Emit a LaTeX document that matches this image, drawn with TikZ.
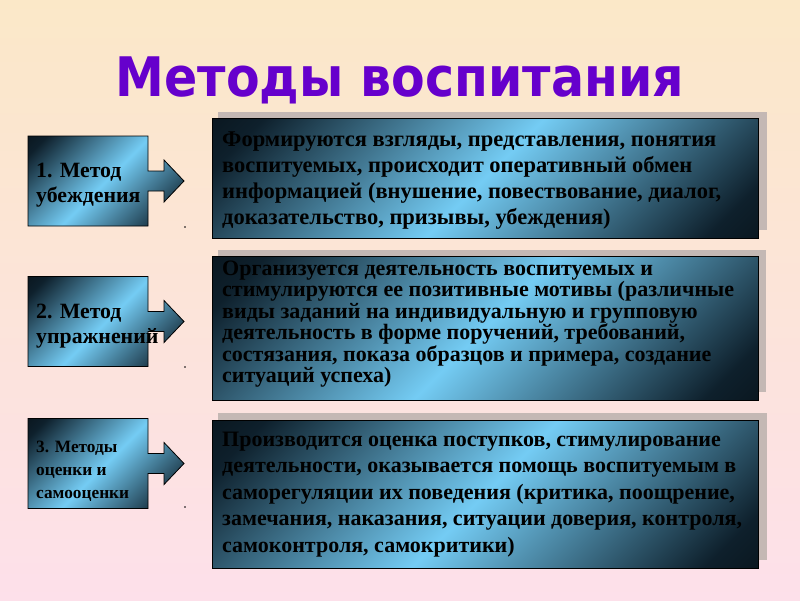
\documentclass[tikz,border=0pt]{standalone}
\usepackage{fontspec}
\setmainfont{Liberation Serif}
\newfontfamily\headfont{DejaVu Sans Condensed}
\definecolor{bgtop}{HTML}{FBE8C8}
\definecolor{bgbot}{HTML}{FDE0EA}
\definecolor{headviolet}{HTML}{6600CC}
\definecolor{boxdark}{HTML}{0E202C}
\definecolor{boxlight}{HTML}{74CCF4}
\definecolor{shadowgrey}{HTML}{C4B8B4}
\pgfdeclarehorizontalshading{steel}{100bp}{color(0bp)=(black); color(20bp)=(boxdark); color(50bp)=(boxlight); color(80bp)=(boxdark); color(100bp)=(black)}

\begin{document}
\begin{tikzpicture}[x=1pt,y=-1pt]
  \tikzstyle{steelbox} = [draw=black, line width=0.8pt, shading=steel, shading angle=-45]
  \tikzstyle{shadow} = [fill=shadowgrey]
  \tikzstyle{method} = [font=\fontsize{21.8}{25}\selectfont\bfseries, anchor=base west, align=left, inner sep=0pt]
  \tikzstyle{note} = [font=\fontsize{22.5}{26}\selectfont\bfseries, anchor=base west, align=left, inner sep=0pt]
  \shade[top color=bgtop, bottom color=bgbot] (0,0) rectangle (800,600);
  \useasboundingbox (0,0) rectangle (800,600);

  \node (title) [font=\headfont\bfseries\fontsize{54.5}{60}\selectfont, text=headviolet, anchor=base] at (400,96) {Методы воспитания};

  \foreach \y/\d in {181/227, 321.5/367, 463.5/507} {
    \draw[steelbox] (28,{\y-45}) -- (148,{\y-45}) -- (148,{\y-10}) -- (164,{\y-10}) -- (164,{\y-21})
      -- (184,\y) -- (164,{\y+21}) -- (164,{\y+10}) -- (148,{\y+10}) -- (148,{\y+45}) -- (28,{\y+45}) -- cycle;
    \fill (185,\d) circle (0.8);
  }

  \fill[shadow] (218,112) rectangle (767,230);
  \draw[steelbox] (212,118) rectangle (758,238);
  \fill[shadow] (218,250) rectangle (766,392);
  \draw[steelbox] (212,256) rectangle (758,400);
  \fill[shadow] (218,413) rectangle (767,560);
  \draw[steelbox] (212,420) rectangle (758,568);

  \node (persuasion) [method] at (36,202) {1. Метод\\убеждения};
  \node (exercise) [method] at (36,343) {2. Метод\\упражнений};
  \node (assessment) [method, font=\fontsize{17.3}{23}\selectfont\bfseries] at (36,498) {3. Методы\\оценки и\\самооценки};

  \node (persuasiontext) [note] at (222,224) {Формируются взгляды, представления, понятия\\
    воспитуемых, происходит оперативный обмен\\
    информацией (внушение, повествование, диалог,\\
    доказательство, призывы, убеждения)};
  \node (exercisetext) [note, font=\fontsize{22}{21.5}\selectfont\bfseries] at (222,382.5) {Организуется деятельность воспитуемых и\\
    стимулируются ее позитивные мотивы (различные\\
    виды заданий на индивидуальную и групповую\\
    деятельность в форме поручений, требований,\\
    состязания, показа образцов и примера, создание\\
    ситуаций успеха)};
  \node (assessmenttext) [note, font=\fontsize{22}{26.5}\selectfont\bfseries] at (222,552) {Производится оценка поступков, стимулирование\\
    деятельности, оказывается помощь воспитуемым в\\
    саморегуляции их поведения (критика, поощрение,\\
    замечания, наказания, ситуации доверия, контроля,\\
    самоконтроля, самокритики)};
\end{tikzpicture}
\end{document}
